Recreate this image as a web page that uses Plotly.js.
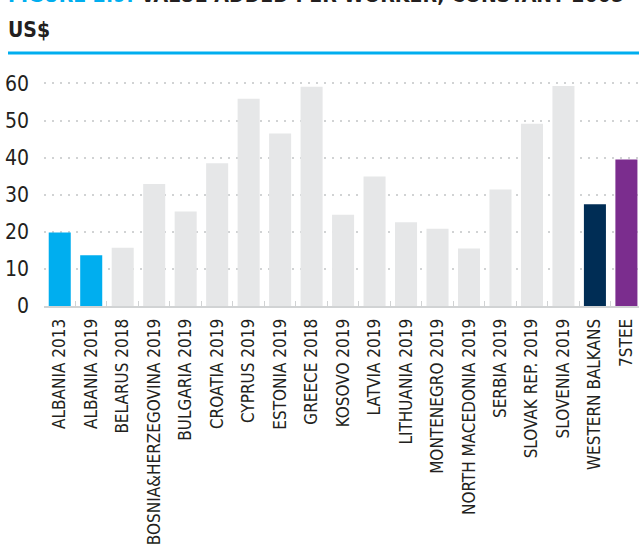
<!DOCTYPE html>
<html>
<head>
<meta charset="utf-8">
<script src="https://cdn.plot.ly/plotly-3.0.1.min.js"></script>
<style>
html,body{margin:0;padding:0;background:#fff;overflow:hidden;}
#chart{width:639px;height:558px;}
</style>
</head>
<body>
<div id="chart"></div>
<script>
var categories = ["ALBANIA 2013","ALBANIA 2019","BELARUS 2018","BOSNIA&HERZEGOVINA 2019","BULGARIA 2019","CROATIA 2019","CYPRUS 2019","ESTONIA 2019","GREECE 2018","KOSOVO 2019","LATVIA 2019","LITHUANIA 2019","MONTENEGRO 2019","NORTH MACEDONIA 2019","SERBIA 2019","SLOVAK REP. 2019","SLOVENIA 2019","WESTERN BALKANS","7STEE"];
var values = [19.8,13.7,15.7,32.9,25.5,38.5,55.9,46.5,59.1,24.6,34.9,22.6,20.8,15.5,31.4,49.1,59.3,27.4,39.5];
var barColors = ["#00AEEF","#00AEEF","#E6E7E8","#E6E7E8","#E6E7E8","#E6E7E8","#E6E7E8","#E6E7E8","#E6E7E8","#E6E7E8","#E6E7E8","#E6E7E8","#E6E7E8","#E6E7E8","#E6E7E8","#E6E7E8","#E6E7E8","#002D55","#7B2D8E"];
var yTicks = [0,10,20,30,40,50,60];
var titleBlue = "FIGURE 2.9:";
var titleBlack = " VALUE ADDED PER WORKER, CONSTANT 2005";
var subTitle = "US$";

var W = 639, H = 558;
var L = 44, R = 0, T = 76, B = 252;
var pw = W - L - R, ph = H - T - B;
function px2x(p){ return (p - L) / pw; }
function px2y(p){ return (H - B - p) / ph; }

var FONT = "DejaVu Sans Condensed, Liberation Sans Narrow, sans-serif";

var trace = {
  type: "bar",
  x: categories,
  y: values,
  marker: {color: barColors, line: {width: 0}},
  hoverinfo: "x+y"
};

var layout = {
  width: W, height: H,
  margin: {l: L, r: R, t: T, b: B, pad: 0},
  paper_bgcolor: "#fff", plot_bgcolor: "#fff",
  bargap: 0.3,
  showlegend: false,
  font: {family: FONT, color: "#231F20", size: 17},
  xaxis: {
    type: "category",
    range: [-0.5, 18.4],
    tickangle: -90,
    tickfont: {family: FONT, size: 17, color: "#231F20"},
    showline: true, linecolor: "#D1D3D4", linewidth: 2,
    ticks: "inside", tickson: "boundaries", ticklen: 5, tickcolor: "#D1D3D4", tickwidth: 1,
    ticklabelstandoff: 4,
    showgrid: false, fixedrange: true
  },
  yaxis: {
    range: [0, 62],
    tickvals: yTicks,
    ticktext: yTicks.map(String),
    tickfont: {family: FONT, size: 21, color: "#231F20"},
    showgrid: true, gridcolor: "#D1D3D4", gridwidth: 2, griddash: "2px,6px",
    zeroline: false, showline: false, ticks: "",
    ticklabelstandoff: 14,
    fixedrange: true
  },
  shapes: [
    {type: "line", xref: "paper", yref: "paper",
     x0: px2x(8), x1: px2x(W), y0: px2y(53), y1: px2y(53),
     line: {color: "#00AEEF", width: 3}}
  ],
  annotations: [
    {xref: "paper", yref: "paper", x: px2x(6), y: px2y(9), xanchor: "left", yanchor: "bottom",
     showarrow: false, align: "left",
     text: "<b><span style='color:#00AEEF'>" + titleBlue + "</span>" + titleBlack + "</b>",
     font: {family: FONT, size: 21, color: "#231F20"}},
    {xref: "paper", yref: "paper", x: px2x(6), y: px2y(44), xanchor: "left", yanchor: "bottom",
     showarrow: false, align: "left",
     text: "<b>" + subTitle + "</b>",
     font: {family: FONT, size: 21, color: "#231F20"}}
  ]
};

Plotly.newPlot("chart", [trace], layout, {displayModeBar: false, staticPlot: true});
</script>
</body>
</html>
